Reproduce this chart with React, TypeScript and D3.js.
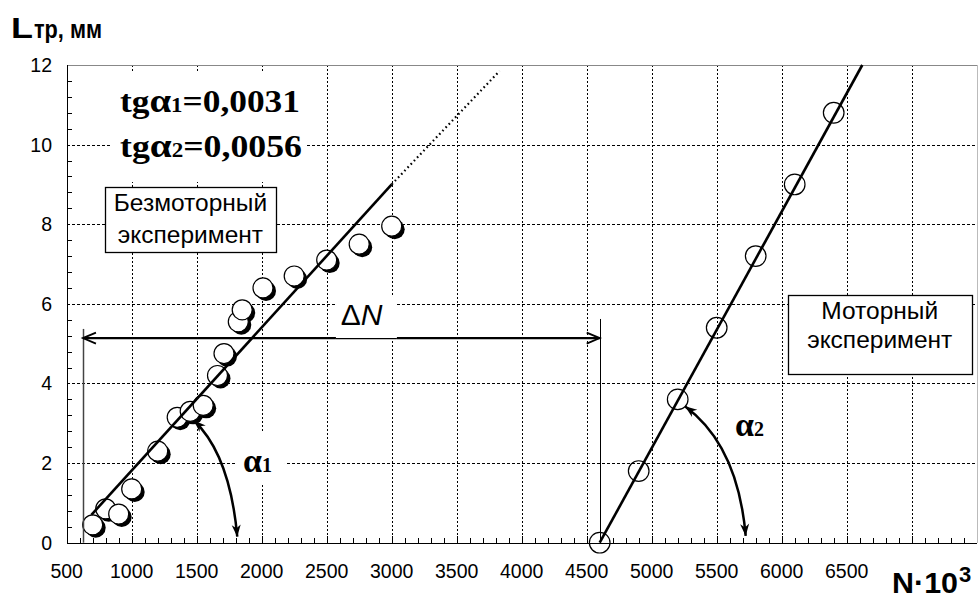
import React from "react";
import * as d3 from "d3";

// ---------- data ----------
const xTickValues = [500, 1000, 1500, 2000, 2500, 3000, 3500, 4000, 4500, 5000, 5500, 6000, 6500];
const yTickValues = [0, 2, 4, 6, 8, 10, 12];

// Безмоторный эксперимент (points with shadow)
const benchN = [700, 800, 900, 1000, 1200, 1350, 1450, 1550, 1660, 1710, 1820, 1850, 2010, 2250, 2500, 2750, 3000];
const benchL = [0.45, 0.85, 0.72, 1.35, 2.3, 3.15, 3.3, 3.45, 4.2, 4.75, 5.55, 5.85, 6.4, 6.7, 7.1, 7.5, 7.95];

// Моторный эксперимент (open circles)
const motorN = [4600, 4900, 5200, 5500, 5800, 6100, 6400];
const motorL = [0, 1.8, 3.6, 5.4, 7.2, 9.0, 10.8];

// fitted lines
const fit1N = [690, 3000];
const fit1L = [0.7, 9.0];
const fit1ExtN = [3000, 3830];
const fit1ExtL = [9.0, 11.85];
const fit2N = [4600, 6620];
const fit2L = [0, 12];

// ΔN markers
const deltaStartN = 625;
const deltaEndN = 4600;
const deltaL = 5.14;

const W = 979;
const H = 597;

export default function App() {
  const x = d3.scaleLinear().domain([500, 7500]).range([66.7, 976.7]);
  const y = d3.scaleLinear().domain([0, 12]).range([542.7, 65]);

  const line = d3
    .line<[number, number]>()
    .x((d) => x(d[0]))
    .y((d) => y(d[1]));

  const zip = (a: number[], b: number[]) => a.map((v, i) => [v, b[i]] as [number, number]);

  const minorX = d3.range(600, 7500, 100).filter((v) => v % 500 !== 0);
  const minorY = d3.range(0.4, 12, 0.4).filter((v) => Math.abs(v / 2 - Math.round(v / 2)) > 0.01);
  const gridX = d3.range(1000, 7500, 500);
  const gridY = [2, 4, 6, 8, 10];

  const sans = "'Liberation Sans', Arial, sans-serif";
  const serif = "'Liberation Serif', 'Times New Roman', serif";
  const px = (v: number) => Math.round(v) + 0.5;

  const arrowHead = (tip: [number, number], from: [number, number], len = 12, half = 4.5) => {
    const dx = tip[0] - from[0];
    const dy = tip[1] - from[1];
    const d = Math.hypot(dx, dy);
    const ux = dx / d;
    const uy = dy / d;
    const bx = tip[0] - ux * len;
    const by = tip[1] - uy * len;
    const mx = tip[0] - ux * len * 0.7;
    const my = tip[1] - uy * len * 0.7;
    const nx = -uy;
    const ny = ux;
    return `M${tip[0]},${tip[1]}L${bx + nx * half},${by + ny * half}L${mx},${my}L${bx - nx * half},${by - ny * half}Z`;
  };

  const curveArrow = (s: [number, number], c: [number, number], e: [number, number], key: string) => {
    const S: [number, number] = [x(s[0]), y(s[1])];
    const C: [number, number] = [x(c[0]), y(c[1])];
    const E: [number, number] = [x(e[0]), y(e[1])];
    return (
      <g key={key}>
        <path d={`M${S[0]},${S[1]}Q${C[0]},${C[1]} ${E[0]},${E[1]}`} fill="none" stroke="#000" strokeWidth={2.5} />
        <path d={arrowHead(S, C)} fill="#000" />
        <path d={arrowHead(E, C)} fill="#000" />
      </g>
    );
  };

  const chevron = (tipX: number, tipY: number, dir: number) =>
    `M${tipX - dir * 13},${tipY - 5.5}L${tipX},${tipY}L${tipX - dir * 13},${tipY + 5.5}`;

  const box = (n0: number, n1: number, l0: number, l1: number) => (
    <rect x={px(x(n0))} y={px(y(l0))} width={Math.round(x(n1) - x(n0))} height={Math.round(y(l1) - y(l0))} fill="#fff" stroke="#000" strokeWidth={1.3} />
  );

  const whiteRect = (n0: number, n1: number, l0: number, l1: number) => (
    <rect x={x(n0)} y={y(l0)} width={x(n1) - x(n0)} height={y(l1) - y(l0)} fill="#fff" />
  );

  return (
    <svg width={W} height={H} style={{ position: "absolute", left: 0, top: 0, background: "#fff" }}>
      <rect width={W} height={H} fill="#fff" />
      {/* grid */}
      <g shapeRendering="crispEdges">
        {gridX.map((v) => (
          <line key={"gx" + v} x1={px(x(v))} x2={px(x(v))} y1={y(0)} y2={y(12)} stroke="#000" strokeWidth={1} strokeDasharray="2,2" />
        ))}
        {gridY.map((v) => (
          <line key={"gy" + v} x1={x(500)} x2={x(7500)} y1={px(y(v))} y2={px(y(v))} stroke="#000" strokeWidth={1} strokeDasharray="3,2" />
        ))}
        {/* frame top/right */}
        <line x1={x(500)} x2={x(7500)} y1={px(y(12))} y2={px(y(12))} stroke="#888" strokeWidth={1.5} />
        <line x1={px(x(7500))} x2={px(x(7500))} y1={y(12)} y2={y(0)} stroke="#bbb" strokeWidth={1} />
      </g>

      {/* white backgrounds behind labels */}
      {whiteRect(833, 2341, 11.82, 9.06)}
      {whiteRect(2571, 3040, 6.22, 5.14)}
      {whiteRect(1810, 2179, 2.76, 1.45)}

      {/* boxes */}
      {box(795, 2110, 8.93, 7.29)}
      <text x={x(1452)} y={y(8.32)} fontFamily={sans} fontSize={24.5} textAnchor="middle">Безмоторный</text>
      <text x={x(1452)} y={y(7.52)} fontFamily={sans} fontSize={24.5} textAnchor="middle">эксперимент</text>
      {box(6046, 7462, 6.22, 4.23)}
      <text x={x(6754)} y={y(5.61)} fontFamily={sans} fontSize={24.5} textAnchor="middle">Моторный</text>
      <text x={x(6754)} y={y(4.88)} fontFamily={sans} fontSize={24.5} textAnchor="middle">эксперимент</text>

      {/* axes */}
      <g shapeRendering="crispEdges">
        <line x1={px(x(500))} x2={px(x(500))} y1={y(0)} y2={y(12)} stroke="#000" strokeWidth={1.6} />
        <line x1={x(500)} x2={x(7500)} y1={px(y(0))} y2={px(y(0))} stroke="#000" strokeWidth={1.6} />
        {minorX.map((v) => (
          <line key={"mx" + v} x1={px(x(v))} x2={px(x(v))} y1={y(0)} y2={y(0) - 5} stroke="#000" strokeWidth={1} />
        ))}
        {gridX.map((v) => (
          <line key={"Mx" + v} x1={px(x(v))} x2={px(x(v))} y1={y(0)} y2={y(0) - 7} stroke="#000" strokeWidth={1} />
        ))}
        {minorY.map((v) => (
          <line key={"my" + v} x1={x(500)} x2={x(500) + 5} y1={px(y(v))} y2={px(y(v))} stroke="#000" strokeWidth={1} />
        ))}
      </g>
      {xTickValues.map((v) => (
        <text key={"tx" + v} x={x(v)} y={578} fontFamily={sans} fontSize={19.5} textAnchor="middle">
          {v}
        </text>
      ))}
      {yTickValues.map((v) => (
        <text key={"ty" + v} x={52} y={y(v) + 7} fontFamily={sans} fontSize={19.5} textAnchor="end">
          {v}
        </text>
      ))}

      {/* bench points with shadows */}
      {benchN.map((n, i) => (
        <circle key={"bs" + i} cx={x(n) + 3} cy={y(benchL[i]) + 3} r={10} fill="#000" />
      ))}
      {benchN.map((n, i) => (
        <circle key={"bp" + i} cx={x(n)} cy={y(benchL[i])} r={10} fill="#fff" stroke="#000" strokeWidth={1.2} />
      ))}
      {/* motor points */}
      {motorN.map((n, i) => (
        <circle key={"mp" + i} cx={x(n)} cy={y(motorL[i])} r={10.3} fill="none" stroke="#000" strokeWidth={1.2} />
      ))}

      {/* fitted lines */}
      <path d={line(zip(fit1N, fit1L)) || ""} fill="none" stroke="#000" strokeWidth={2.6} />
      <path d={line(zip(fit1ExtN, fit1ExtL)) || ""} fill="none" stroke="#000" strokeWidth={2.2} strokeDasharray="1.6,3" />
      <path d={line(zip(fit2N, fit2L)) || ""} fill="none" stroke="#000" strokeWidth={2.6} />

      {/* ΔN */}
      <line x1={px(x(deltaStartN))} x2={px(x(deltaStartN))} y1={y(0)} y2={y(5.37)} stroke="#444" strokeWidth={1.5} />
      <line x1={px(x(deltaEndN))} x2={px(x(deltaEndN))} y1={y(0)} y2={y(5.62)} stroke="#000" strokeWidth={1} />
      <line x1={x(deltaStartN)} x2={x(2571)} y1={y(deltaL)} y2={y(deltaL)} stroke="#000" strokeWidth={2.2} />
      <line x1={x(2571)} x2={x(3040)} y1={y(deltaL) + 0.5} y2={y(deltaL) + 0.5} stroke="#000" strokeWidth={1.2} />
      <line x1={x(3040)} x2={x(deltaEndN)} y1={y(deltaL)} y2={y(deltaL)} stroke="#000" strokeWidth={2.2} />
      <path d={chevron(x(deltaStartN), y(deltaL), -1)} fill="none" stroke="#000" strokeWidth={1.8} />
      <path d={chevron(x(deltaEndN), y(deltaL), 1)} fill="none" stroke="#000" strokeWidth={1.8} />
      <text x={x(2768)} y={y(5.47)} fontFamily={sans} fontSize={30} textAnchor="middle">
        Δ<tspan fontStyle="italic">N</tspan>
      </text>

      {/* angle arrows */}
      {curveArrow([1479, 3.07], [1756, 2.2], [1812, 0.15], "a1")}
      {curveArrow([5256, 3.43], [5663, 2.45], [5723, 0.17], "a2")}
      <text x={x(1856)} y={y(1.78)} fontFamily={serif} fontWeight="bold" fontSize={34}>
        α<tspan fontSize={20}>1</tspan>
      </text>
      <text x={x(5641)} y={y(2.68)} fontFamily={serif} fontWeight="bold" fontSize={34}>
        α<tspan fontSize={20}>2</tspan>
      </text>

      {/* tg text */}
      <text x={x(910)} y={y(10.82)} fontFamily={serif} fontWeight="bold" fontSize={31} textLength={180} lengthAdjust="spacingAndGlyphs">
        tg<tspan fontSize={34}>α</tspan>
        <tspan fontSize={20}>1</tspan>=0,0031
      </text>
      <text x={x(910)} y={y(9.7)} fontFamily={serif} fontWeight="bold" fontSize={31} textLength={182} lengthAdjust="spacingAndGlyphs">
        tg<tspan fontSize={34}>α</tspan>
        <tspan fontSize={20}>2</tspan>=0,0056
      </text>

      {/* axis titles */}
      <text x={11} y={38.3} fontFamily={sans} fontWeight="bold" fontSize={30} textLength={22} lengthAdjust="spacingAndGlyphs">
        L
      </text>
      <text x={34} y={38.3} fontFamily={sans} fontWeight="bold" fontSize={25} textLength={68} lengthAdjust="spacingAndGlyphs">
        тр, мм
      </text>
      <text x={892} y={593} fontFamily={sans} fontWeight="bold" fontSize={30} textLength={66} lengthAdjust="spacingAndGlyphs">
        N·10
      </text>
      <text x={959} y={582} fontFamily={sans} fontWeight="bold" fontSize={22}>
        3
      </text>
    </svg>
  );
}
